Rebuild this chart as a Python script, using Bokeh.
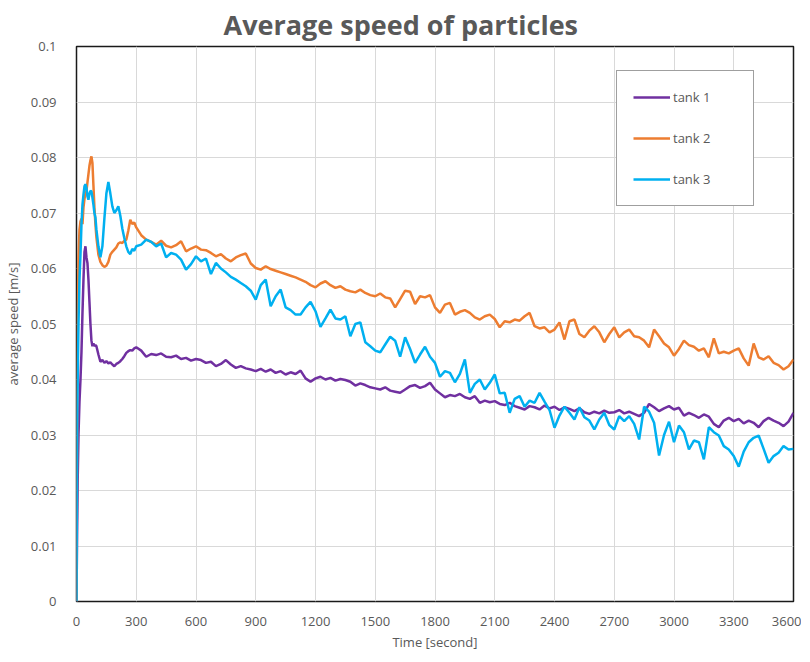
from bokeh.plotting import figure
from bokeh.models import (ColumnDataSource, Range1d, SingleIntervalTicker,
                          CustomJSTickFormatter, Title)
from bokeh.embed import file_html
from bokeh.resources import INLINE

# ---------------- data ----------------
time_early = [0, 3, 6, 10, 15, 20, 25, 30, 35, 40, 45, 50, 55, 60, 65, 70, 75, 80,
              85, 90, 95, 100, 110, 120, 130, 140, 150, 160, 170, 180, 190, 200,
              210, 220, 230, 240, 250, 260, 270, 280, 290, 300]
time_late = list(range(325, 3601, 25))
time_s = time_early + time_late

tank1 = [
    0.000, 0.012, 0.022, 0.030, 0.036, 0.040, 0.045, 0.052, 0.058, 0.063, 0.064,
    0.062, 0.061, 0.058, 0.054, 0.050, 0.047, 0.046, 0.0465, 0.046, 0.0462, 0.046,
    0.0445, 0.0432, 0.0435, 0.0430, 0.0433, 0.0429, 0.0431, 0.0427, 0.0424, 0.0428,
    0.0430, 0.0433, 0.0437, 0.0442, 0.0448, 0.0451, 0.0453, 0.0452, 0.0456, 0.0458,
    0.0452, 0.0441, 0.0446, 0.0444, 0.0447, 0.0441, 0.0440, 0.0443,
    0.0437, 0.0439, 0.0434, 0.0437, 0.0435, 0.0430, 0.0432, 0.0424,
    0.0428, 0.0435, 0.0427, 0.0421, 0.0424, 0.0420, 0.0418, 0.0415,
    0.0419, 0.0414, 0.0418, 0.0412, 0.0415, 0.0409, 0.0413, 0.0410,
    0.0416, 0.0402, 0.0396, 0.0402, 0.0405, 0.0400, 0.0403, 0.0398,
    0.0401, 0.0399, 0.0396, 0.0389, 0.0393, 0.0390, 0.0386, 0.0384,
    0.0382, 0.0386, 0.0380, 0.0378, 0.0376, 0.0382, 0.0388, 0.0390,
    0.0385, 0.0388, 0.0394, 0.0382, 0.0375, 0.0368, 0.0372, 0.0370,
    0.0374, 0.0368, 0.0365, 0.0370, 0.0358, 0.0362, 0.0359, 0.0361,
    0.0356, 0.0354, 0.0358, 0.0352, 0.0349, 0.0346, 0.0352, 0.0350,
    0.0346, 0.0353, 0.0348, 0.0351, 0.0345, 0.0350, 0.0347, 0.0343,
    0.0348, 0.0341, 0.0338, 0.0342, 0.0339, 0.0344, 0.0340, 0.0341,
    0.0345, 0.0339, 0.0342, 0.0338, 0.0334, 0.0340, 0.0356, 0.0350,
    0.0343, 0.0348, 0.0352, 0.0346, 0.0349, 0.0335, 0.0340, 0.0336,
    0.0331, 0.0337, 0.0333, 0.0320, 0.0314, 0.0326, 0.0331, 0.0325,
    0.0329, 0.0321, 0.0326, 0.0322, 0.0314, 0.0325, 0.0331, 0.0326,
    0.0322, 0.0316, 0.0324, 0.0340,
]

tank2 = [
    0.000, 0.030, 0.050, 0.062, 0.067, 0.0685, 0.069, 0.068, 0.071, 0.0725, 0.0735,
    0.074, 0.0755, 0.077, 0.0785, 0.0795, 0.0802, 0.0790, 0.0750, 0.0710, 0.0680,
    0.0656, 0.0625, 0.0612, 0.0606, 0.0603, 0.0605, 0.0612, 0.0625, 0.0630, 0.0634,
    0.0638, 0.0645, 0.0647, 0.0646, 0.0650, 0.0652, 0.0668, 0.0688, 0.0680, 0.0683,
    0.0674,
    0.0660, 0.0652, 0.0648, 0.0643, 0.0650, 0.0641, 0.0638, 0.0642,
    0.0649, 0.0631, 0.0636, 0.0640, 0.0634, 0.0633, 0.0628, 0.0622,
    0.0626, 0.0618, 0.0613, 0.0620, 0.0624, 0.0627, 0.0609, 0.0601,
    0.0598, 0.0604, 0.0599, 0.0596, 0.0593, 0.0590, 0.0587, 0.0584,
    0.0580, 0.0576, 0.0570, 0.0566, 0.0573, 0.0577, 0.0570, 0.0565,
    0.0568, 0.0562, 0.0559, 0.0557, 0.0562, 0.0556, 0.0552, 0.0550,
    0.0555, 0.0548, 0.0546, 0.0530, 0.0545, 0.0560, 0.0558, 0.0536,
    0.0550, 0.0548, 0.0552, 0.0530, 0.0520, 0.0535, 0.0538, 0.0517,
    0.0522, 0.0525, 0.0520, 0.0512, 0.0508, 0.0514, 0.0517, 0.0509,
    0.0494, 0.0505, 0.0503, 0.0508, 0.0506, 0.0514, 0.0520, 0.0496,
    0.0492, 0.0494, 0.0485, 0.0490, 0.0503, 0.0472, 0.0505, 0.0508,
    0.0482, 0.0476, 0.0488, 0.0496, 0.0485, 0.0467, 0.0482, 0.0494,
    0.0476, 0.0485, 0.0490, 0.0478, 0.0476, 0.0470, 0.0458, 0.0490,
    0.0478, 0.0465, 0.0458, 0.0443, 0.0455, 0.0470, 0.0462, 0.0459,
    0.0452, 0.0456, 0.0440, 0.0474, 0.0447, 0.0450, 0.0447, 0.0452,
    0.0456, 0.0438, 0.0425, 0.0465, 0.0440, 0.0436, 0.0442, 0.0430,
    0.0426, 0.0418, 0.0424, 0.0436,
]

tank3 = [
    0.000, 0.031, 0.040, 0.050, 0.058, 0.0625, 0.068, 0.0715, 0.0733, 0.0748, 0.0752,
    0.0745, 0.0730, 0.0724, 0.0735, 0.0740, 0.0739, 0.0728, 0.0715, 0.0700, 0.0692,
    0.0670, 0.0640, 0.0620, 0.0640, 0.0690, 0.0735, 0.0756, 0.0735, 0.0712, 0.0700,
    0.0705, 0.0712, 0.0695, 0.0672, 0.0655, 0.0640, 0.0630, 0.0626, 0.0635, 0.0632,
    0.0640,
    0.0643, 0.0652, 0.0648, 0.0640, 0.0645, 0.0620, 0.0628, 0.0625,
    0.0616, 0.0598, 0.0608, 0.0622, 0.0613, 0.0618, 0.0590, 0.0610,
    0.0600, 0.0593, 0.0585, 0.0580, 0.0574, 0.0568, 0.0560, 0.0544,
    0.0570, 0.0580, 0.0532, 0.0550, 0.0562, 0.0530, 0.0525, 0.0517,
    0.0517, 0.0530, 0.0540, 0.0523, 0.0495, 0.0510, 0.0526, 0.0510,
    0.0508, 0.0514, 0.0478, 0.0500, 0.0503, 0.0467, 0.0460, 0.0452,
    0.0449, 0.0463, 0.0477, 0.0470, 0.0441, 0.0476, 0.0455, 0.0430,
    0.0445, 0.0459, 0.0441, 0.0430, 0.0405, 0.0415, 0.0412, 0.0395,
    0.0410, 0.0436, 0.0376, 0.0392, 0.0400, 0.0382, 0.0394, 0.0409,
    0.0375, 0.0376, 0.0340, 0.0365, 0.0370, 0.0351, 0.0362, 0.0358,
    0.0376, 0.0360, 0.0345, 0.0313, 0.0335, 0.0351, 0.0340, 0.0328,
    0.0350, 0.0332, 0.0326, 0.0310, 0.0328, 0.0340, 0.0318, 0.0310,
    0.0334, 0.0325, 0.0334, 0.0320, 0.0292, 0.0351, 0.0342, 0.0322,
    0.0263, 0.0300, 0.0324, 0.0287, 0.0317, 0.0305, 0.0274, 0.0290,
    0.0287, 0.0256, 0.0314, 0.0305, 0.0299, 0.0280, 0.0274, 0.0262,
    0.0243, 0.0270, 0.0287, 0.0295, 0.0299, 0.0275, 0.0250, 0.0262,
    0.0268, 0.0280, 0.0274, 0.0275,
]

series_names = ["tank 1", "tank 2", "tank 3"]
series_colors = ["#7030A0", "#ED7D31", "#00B0F0"]

source = ColumnDataSource(data=dict(t=time_s, tank1=tank1, tank2=tank2, tank3=tank3))

GRAY = "#595959"
FONT = "Open Sans"

p = figure(frame_width=717, frame_height=555, output_backend="svg",
           toolbar_location=None,
           x_range=Range1d(0, 3600), y_range=Range1d(0, 0.1),
           min_border_left=69, min_border_right=8, min_border_top=39,
           min_border_bottom=44)

p.title = Title(text="Average speed of particles", align="left", offset=147,
                text_font=FONT, text_font_size="27px", text_font_style="bold",
                text_color=GRAY, standoff=7)

for col, name, color in zip(["tank1", "tank2", "tank3"], series_names, series_colors):
    p.line("t", col, source=source, line_color=color, line_width=2.5,
           legend_label=name)

p.outline_line_color = "#1a1a1a"
p.outline_line_width = 1.5

p.xaxis.ticker = SingleIntervalTicker(interval=300)
p.yaxis.ticker = SingleIntervalTicker(interval=0.01)
p.yaxis.formatter = CustomJSTickFormatter(code="return String(parseFloat(tick.toFixed(3)));")

for ax in (p.xaxis[0], p.yaxis[0]):
    ax.axis_line_color = None
    ax.major_tick_line_color = None
    ax.minor_tick_line_color = None
    ax.major_label_text_font = FONT
    ax.major_label_text_font_size = "13px"
    ax.major_label_text_color = GRAY
    ax.axis_label_text_font = FONT
    ax.axis_label_text_font_size = "13px"
    ax.axis_label_text_font_style = "normal"
    ax.axis_label_text_color = GRAY

p.xaxis.axis_label = "Time [second]"
p.yaxis.axis_label = "average speed [m/s]"
p.xaxis.major_label_standoff = 9
p.xaxis.axis_label_standoff = 4
p.yaxis.major_label_standoff = 14
p.yaxis.axis_label_standoff = 6

p.xgrid.ticker = SingleIntervalTicker(interval=300)
p.ygrid.ticker = SingleIntervalTicker(interval=0.01)
p.grid.grid_line_color = "#d9d9d9"
p.grid.grid_line_width = 1

lg = p.legend[0]
lg.location = (540, 395)
lg.border_line_color = "#404040"
lg.border_line_width = 1.5
lg.background_fill_color = "white"
lg.background_fill_alpha = 1
lg.padding = 16
lg.spacing = 21
lg.glyph_width = 37
lg.glyph_height = 20
lg.label_height = 20
lg.label_width = 64
lg.label_standoff = 3
lg.margin = 0
lg.label_text_font = FONT
lg.label_text_font_size = "13px"
lg.label_text_color = GRAY

open("out.html", "w").write(file_html(p, INLINE))
